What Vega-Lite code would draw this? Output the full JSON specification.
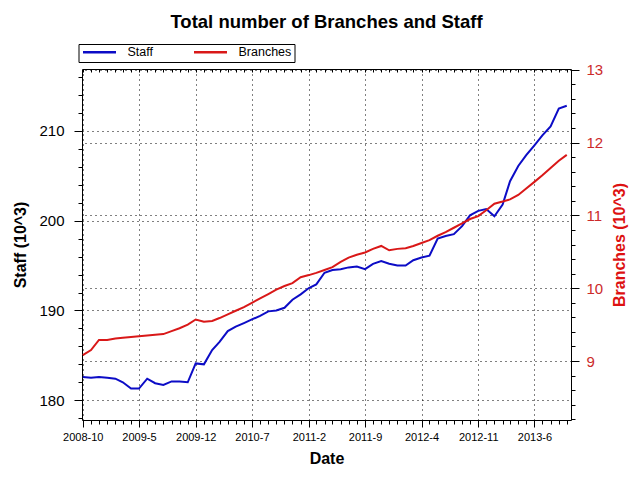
{
  "$schema": "https://vega.github.io/schema/vega-lite/v6.json",
  "width": 489,
  "height": 351,
  "autosize": {"type": "none"},
  "padding": {"left": 82, "top": 69, "right": 69, "bottom": 60},
  "background": "white",
  "title": {
    "text": "Total number of Branches and Staff",
    "font": "Liberation Sans",
    "fontSize": 18.5,
    "fontWeight": "bold",
    "color": "black",
    "anchor": "middle",
    "offset": 12
  },
  "data": {
    "values": [
      {"date": "2008-10", "staff": 182.6, "branches": 9.08},
      {"date": "2008-11", "staff": 182.5, "branches": 9.15},
      {"date": "2008-12", "staff": 182.6, "branches": 9.29},
      {"date": "2009-01", "staff": 182.5, "branches": 9.29},
      {"date": "2009-02", "staff": 182.4, "branches": 9.31},
      {"date": "2009-03", "staff": 182.0, "branches": 9.32},
      {"date": "2009-04", "staff": 181.3, "branches": 9.33},
      {"date": "2009-05", "staff": 181.3, "branches": 9.34},
      {"date": "2009-06", "staff": 182.4, "branches": 9.35},
      {"date": "2009-07", "staff": 181.9, "branches": 9.36},
      {"date": "2009-08", "staff": 181.7, "branches": 9.37},
      {"date": "2009-09", "staff": 182.1, "branches": 9.41},
      {"date": "2009-10", "staff": 182.1, "branches": 9.45},
      {"date": "2009-11", "staff": 182.0, "branches": 9.50},
      {"date": "2009-12", "staff": 184.1, "branches": 9.57},
      {"date": "2010-01", "staff": 184.0, "branches": 9.54},
      {"date": "2010-02", "staff": 185.6, "branches": 9.55},
      {"date": "2010-03", "staff": 186.5, "branches": 9.59},
      {"date": "2010-04", "staff": 187.7, "branches": 9.64},
      {"date": "2010-05", "staff": 188.2, "branches": 9.69},
      {"date": "2010-06", "staff": 188.6, "branches": 9.74},
      {"date": "2010-07", "staff": 189.0, "branches": 9.80},
      {"date": "2010-08", "staff": 189.4, "branches": 9.86},
      {"date": "2010-09", "staff": 189.9, "branches": 9.92},
      {"date": "2010-10", "staff": 190.0, "branches": 9.98},
      {"date": "2010-11", "staff": 190.3, "branches": 10.03},
      {"date": "2010-12", "staff": 191.2, "branches": 10.07},
      {"date": "2011-01", "staff": 191.8, "branches": 10.15},
      {"date": "2011-02", "staff": 192.5, "branches": 10.18},
      {"date": "2011-03", "staff": 192.9, "branches": 10.21},
      {"date": "2011-04", "staff": 194.2, "branches": 10.25},
      {"date": "2011-05", "staff": 194.5, "branches": 10.29},
      {"date": "2011-06", "staff": 194.6, "branches": 10.36},
      {"date": "2011-07", "staff": 194.8, "branches": 10.42},
      {"date": "2011-08", "staff": 194.9, "branches": 10.46},
      {"date": "2011-09", "staff": 194.6, "branches": 10.49},
      {"date": "2011-10", "staff": 195.2, "branches": 10.54},
      {"date": "2011-11", "staff": 195.5, "branches": 10.58},
      {"date": "2011-12", "staff": 195.2, "branches": 10.52},
      {"date": "2012-01", "staff": 195.0, "branches": 10.54},
      {"date": "2012-02", "staff": 195.0, "branches": 10.55},
      {"date": "2012-03", "staff": 195.6, "branches": 10.58},
      {"date": "2012-04", "staff": 195.9, "branches": 10.62},
      {"date": "2012-05", "staff": 196.1, "branches": 10.66},
      {"date": "2012-06", "staff": 198.0, "branches": 10.72},
      {"date": "2012-07", "staff": 198.3, "branches": 10.77},
      {"date": "2012-08", "staff": 198.5, "branches": 10.83},
      {"date": "2012-09", "staff": 199.4, "branches": 10.89},
      {"date": "2012-10", "staff": 200.6, "branches": 10.95},
      {"date": "2012-11", "staff": 201.1, "branches": 10.99},
      {"date": "2012-12", "staff": 201.3, "branches": 11.07},
      {"date": "2013-01", "staff": 200.5, "branches": 11.16},
      {"date": "2013-02", "staff": 201.8, "branches": 11.19},
      {"date": "2013-03", "staff": 204.4, "branches": 11.22},
      {"date": "2013-04", "staff": 206.1, "branches": 11.28},
      {"date": "2013-05", "staff": 207.3, "branches": 11.37},
      {"date": "2013-06", "staff": 208.4, "branches": 11.46},
      {"date": "2013-07", "staff": 209.5, "branches": 11.55},
      {"date": "2013-08", "staff": 210.5, "branches": 11.65},
      {"date": "2013-09", "staff": 212.5, "branches": 11.75},
      {"date": "2013-10", "staff": 212.8, "branches": 11.83}
    ]
  },
  "layer": [
    {
      "mark": {"type": "line", "strokeWidth": 2},
      "encoding": {
        "x": {
          "field": "date",
          "type": "temporal",
          "scale": {
            "type": "utc",
            "nice": false,
            "domain": [
              {"year": 2008, "month": 9, "date": 28, "utc": true},
              {"year": 2013, "month": 10, "date": 17, "utc": true}
            ]
          },
          "axis": {
            "orient": "bottom",
            "title": "Date",
            "titleFont": "Liberation Sans",
            "titleFontSize": 16,
            "titleFontWeight": "bold",
            "titleColor": "black",
            "titlePadding": 8,
            "tickCount": {"interval": "month", "step": 1},
            "labelExpr": "((utcyear(datum.value) - 2008) * 12 + utcmonth(datum.value) - 9) % 7 === 0 ? utcFormat(datum.value, '%Y-%-m') : ''",
            "labelFont": "Liberation Sans",
            "labelFontSize": 11,
            "labelColor": "black",
            "labelOverlap": false,
            "labelFlush": false,
            "labelPadding": 4,
            "tickColor": "black",
            "domainColor": "black",
            "tickSize": {
              "condition": {"test": "((utcyear(datum.value) - 2008) * 12 + utcmonth(datum.value) - 9) % 7 === 0", "value": 7},
              "value": 4
            },
            "grid": true,
            "gridColor": "black",
            "gridDash": [1, 4],
            "gridOpacity": {
              "condition": {"test": "((utcyear(datum.value) - 2008) * 12 + utcmonth(datum.value) - 9) % 7 === 0", "value": 1},
              "value": 0
            }
          }
        },
        "y": {
          "field": "staff",
          "type": "quantitative",
          "scale": {"domain": [177.8, 216.9], "nice": false, "zero": false},
          "axis": {
            "orient": "left",
            "title": "Staff (10^3)",
            "titleFont": "Liberation Sans",
            "titleFontSize": 16,
            "titleFontWeight": "bold",
            "titleColor": "black",
            "titlePadding": 10,
            "values": [178, 180, 182, 184, 186, 188, 190, 192, 194, 196, 198, 200, 202, 204, 206, 208, 210, 212, 214, 216],
            "labelExpr": "datum.value % 10 === 0 ? datum.label : ''",
            "labelFont": "Liberation Sans",
            "labelFontSize": 15,
            "labelColor": "black",
            "labelPadding": 10,
            "labelOverlap": false,
            "labelFlush": false,
            "tickColor": "black",
            "domainColor": "black",
            "tickSize": {"condition": {"test": "datum.value % 10 === 0", "value": 8}, "value": 4},
            "grid": true,
            "gridColor": "black",
            "gridDash": [1, 4],
            "gridOpacity": {"condition": {"test": "datum.value % 10 === 0", "value": 1}, "value": 0}
          }
        },
        "color": {
          "datum": "Staff",
          "type": "nominal",
          "scale": {"domain": ["Staff", "Branches"], "range": ["#0c0cc6", "#d91818"]},
          "legend": {
            "orient": "none",
            "legendX": -3.5,
            "legendY": -25,
            "direction": "horizontal",
            "columns": 2,
            "gridAlign": "all",
            "columnPadding": 12,
            "title": null,
            "symbolType": "stroke",
            "symbolSize": 1089,
            "symbolStrokeWidth": 2.5,
            "clipHeight": 10,
            "labelFont": "Liberation Sans",
            "labelFontSize": 12.5,
            "labelColor": "black",
            "labelOffset": 10,
            "padding": 3,
            "strokeColor": "black",
            "fillColor": "white",
            "cornerRadius": 0
          }
        }
      }
    },
    {
      "mark": {"type": "line", "strokeWidth": 2},
      "encoding": {
        "x": {
          "field": "date",
          "type": "temporal",
          "scale": {
            "type": "utc",
            "nice": false,
            "domain": [
              {"year": 2008, "month": 9, "date": 28, "utc": true},
              {"year": 2013, "month": 10, "date": 17, "utc": true}
            ]
          },
          "axis": {
            "orient": "top",
            "title": null,
            "labels": false,
            "tickCount": {"interval": "month", "step": 1},
            "tickColor": "black",
            "domainColor": "black",
            "tickSize": -3,
            "grid": false
          }
        },
        "y": {
          "field": "branches",
          "type": "quantitative",
          "scale": {"domain": [8.19, 13.01], "nice": false, "zero": false},
          "axis": {
            "orient": "right",
            "title": "Branches (10^3)",
            "titleAngle": 270,
            "titleBaseline": "top",
            "titleFont": "Liberation Sans",
            "titleFontSize": 16,
            "titleFontWeight": "bold",
            "titleColor": "#dd1111",
            "titlePadding": 9,
            "values": [8.2, 8.4, 8.6, 8.8, 9, 9.2, 9.4, 9.6, 9.8, 10, 10.2, 10.4, 10.6, 10.8, 11, 11.2, 11.4, 11.6, 11.8, 12, 12.2, 12.4, 12.6, 12.8, 13],
            "labelExpr": "abs(datum.value - round(datum.value)) < 0.001 ? format(datum.value, 'd') : ''",
            "labelFont": "Liberation Sans",
            "labelFontSize": 15,
            "labelColor": "#cc2a2a",
            "labelPadding": 7,
            "labelOverlap": false,
            "labelFlush": false,
            "tickColor": "black",
            "domainColor": "black",
            "tickSize": {"condition": {"test": "abs(datum.value - round(datum.value)) < 0.001", "value": 8}, "value": 4},
            "grid": true,
            "gridColor": "black",
            "gridDash": [1, 4],
            "gridOpacity": {"condition": {"test": "abs(datum.value - round(datum.value)) < 0.001", "value": 1}, "value": 0}
          }
        },
        "color": {"datum": "Branches", "type": "nominal"}
      }
    }
  ],
  "resolve": {"scale": {"y": "independent"}, "axis": {"x": "independent"}},
  "config": {"view": {"stroke": null}}
}
